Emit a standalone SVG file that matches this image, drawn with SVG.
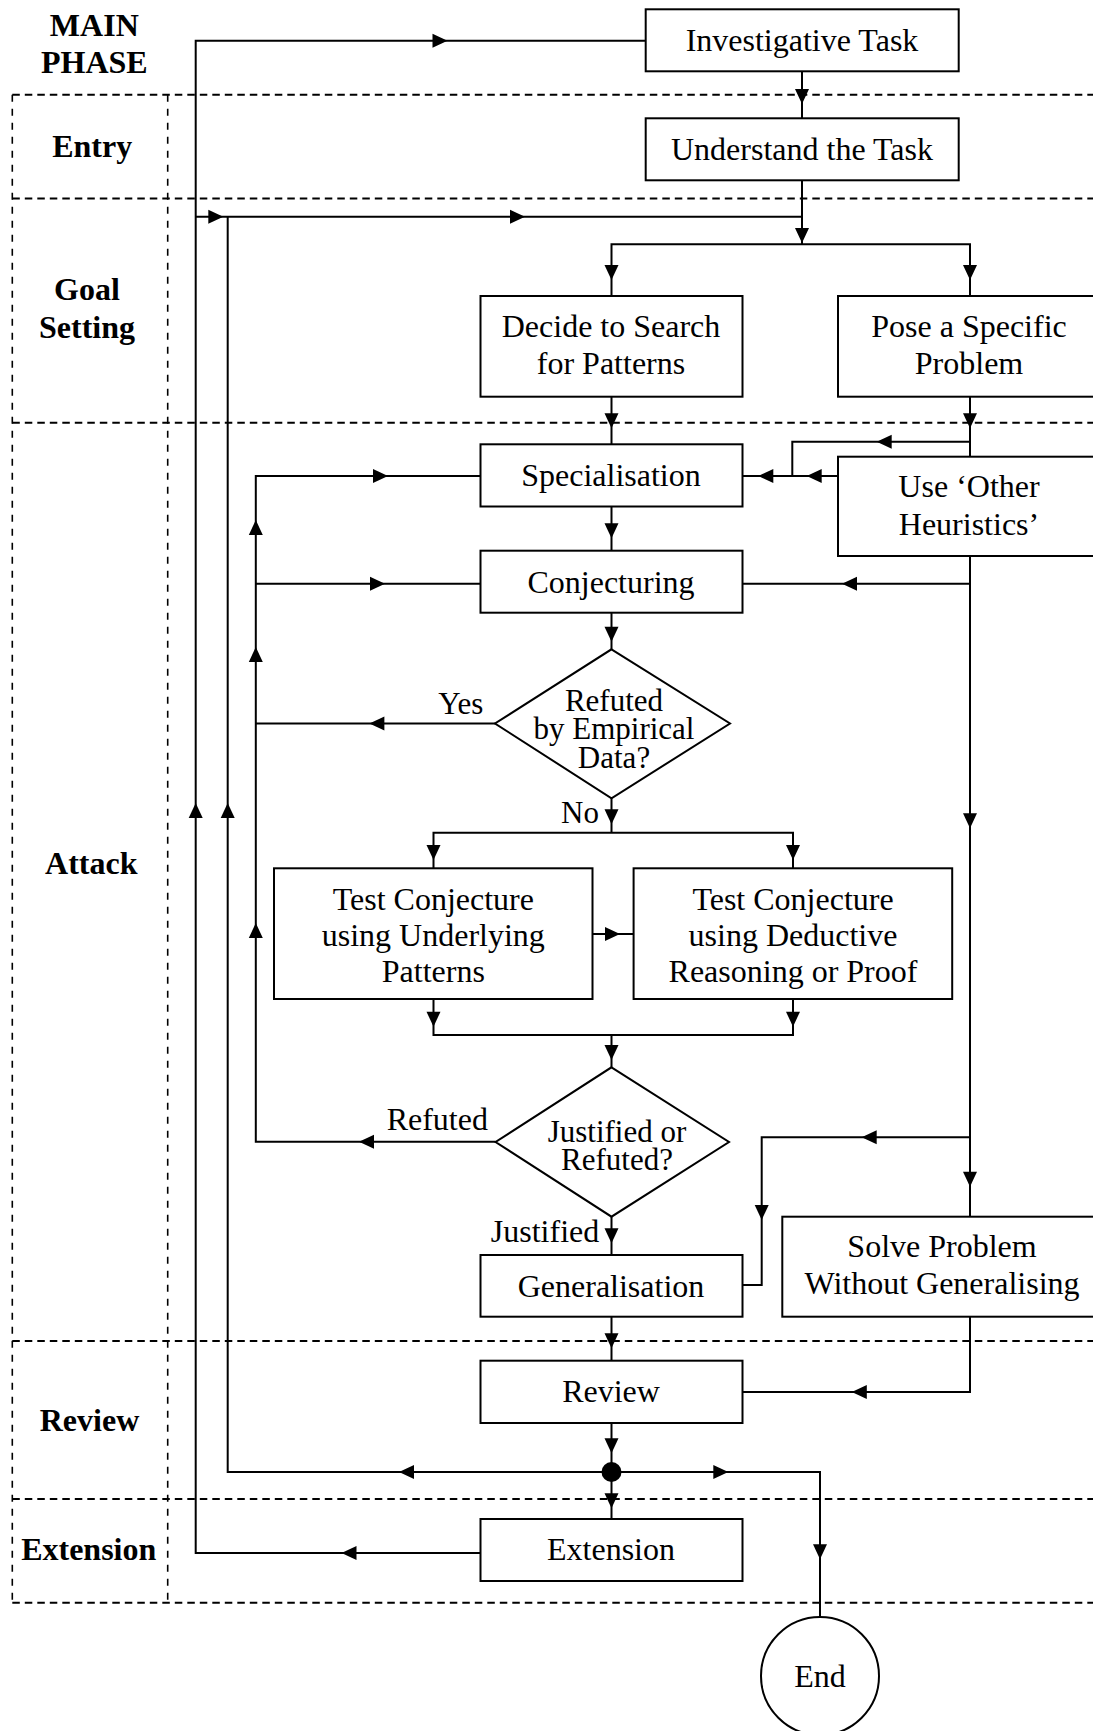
<svg xmlns="http://www.w3.org/2000/svg" xmlns:xlink="http://www.w3.org/1999/xlink" width="1093" height="1731" viewBox="0 0 1093 1731">
<style>
  .bg{fill:#fff}
  .box{fill:#fff;stroke:#000;stroke-width:2}
  .t{font-family:"Liberation Serif","Times New Roman",serif;font-size:32px;text-anchor:middle;fill:#000}
  .d{font-size:31px}
  .ph{font-weight:bold}
  .c{fill:none;stroke:#000;stroke-width:2}
  .dh{fill:none;stroke:#000;stroke-width:2;stroke-dasharray:7.5 5}
  .dv{fill:none;stroke:#000;stroke-width:1.6;stroke-dasharray:7 7}
  .ah{fill:#000}
</style>
<defs>
  <path id="ah" class="ah" d="M0,0 L-15,-7 L-15,7 Z"/>
</defs>
<rect class="bg" x="0" y="0" width="1093" height="1731"/>

<g id="phases">
  <path class="dh" d="M12.3,94.7 H1093 M12.3,198.5 H1093 M12.3,422.7 H1093 M12.3,1341 H1093 M12.3,1499 H1093 M12.3,1602.7 H1093"/>
  <path class="dv" d="M12.3,94.7 V1602.7 M167.7,94.7 V1602.7"/>
  <text class="t ph" x="94.3" y="35.7">MAIN</text>
  <text class="t ph" x="94.3" y="72.7">PHASE</text>
  <text class="t ph" x="92.2" y="156.7">Entry</text>
  <text class="t ph" x="87" y="300">Goal</text>
  <text class="t ph" x="87" y="338">Setting</text>
  <text class="t ph" x="91.3" y="874">Attack</text>
  <text class="t ph" x="89.5" y="1430.7">Review</text>
  <text class="t ph" x="88.7" y="1560">Extension</text>
</g>

<g id="connectors">
  <path class="c" d="M480.5,1553 H195.7 V40.7 H645.7"/>
  <use href="#ah" transform="translate(341.5,1553) rotate(180)"/>
  <use href="#ah" transform="translate(195.7,803) rotate(-90)"/>
  <use href="#ah" transform="translate(447.5,40.7)"/>

  <path class="c" d="M802,71.3 V118.3"/>
  <use href="#ah" transform="translate(802,104) rotate(90)"/>
  <path class="c" d="M802,180.3 V244.3"/>
  <use href="#ah" transform="translate(802,243) rotate(90)"/>

  <path class="c" d="M195.7,216.7 H802"/>
  <use href="#ah" transform="translate(223.3,216.7)"/>
  <use href="#ah" transform="translate(525,216.7)"/>
  <path class="c" d="M611.5,1472 H227.7 V216.7"/>
  <use href="#ah" transform="translate(227.7,803) rotate(-90)"/>
  <use href="#ah" transform="translate(399,1472) rotate(180)"/>

  <path class="c" d="M611.5,296 V244.3 H970 V296"/>
  <use href="#ah" transform="translate(611.5,280) rotate(90)"/>
  <use href="#ah" transform="translate(970,280) rotate(90)"/>

  <path class="c" d="M611.5,396.7 V444.3"/>
  <use href="#ah" transform="translate(611.5,428.3) rotate(90)"/>
  <path class="c" d="M970,396.7 V456.7 M970,441.7 H792.3 V476"/>
  <use href="#ah" transform="translate(970,428.3) rotate(90)"/>
  <use href="#ah" transform="translate(876.7,441.7) rotate(180)"/>
  <path class="c" d="M838,476 H742.5"/>
  <use href="#ah" transform="translate(806.7,476) rotate(180)"/>
  <use href="#ah" transform="translate(758.3,476) rotate(180)"/>

  <path class="c" d="M495,723.5 H255.8 M495.6,1141.7 H255.8 V476 H480.5 M255.8,583.7 H480.5"/>
  <use href="#ah" transform="translate(369.4,723.5) rotate(180)"/>
  <use href="#ah" transform="translate(359,1141.7) rotate(180)"/>
  <use href="#ah" transform="translate(388,476)"/>
  <use href="#ah" transform="translate(385,583.7)"/>
  <use href="#ah" transform="translate(255.8,520) rotate(-90)"/>
  <use href="#ah" transform="translate(255.8,647) rotate(-90)"/>
  <use href="#ah" transform="translate(255.8,923) rotate(-90)"/>

  <path class="c" d="M611.5,506.5 V550.7"/>
  <use href="#ah" transform="translate(611.5,538.3) rotate(90)"/>

  <path class="c" d="M970,556 V1216.7 M970,583.7 H742.5 M970,1137.3 H761.7 V1285 H742.5"/>
  <use href="#ah" transform="translate(842,583.7) rotate(180)"/>
  <use href="#ah" transform="translate(970,828.3) rotate(90)"/>
  <use href="#ah" transform="translate(861.7,1137.3) rotate(180)"/>
  <use href="#ah" transform="translate(970,1186.7) rotate(90)"/>
  <use href="#ah" transform="translate(761.7,1220) rotate(90)"/>

  <path class="c" d="M611.5,612.7 V649.3"/>
  <use href="#ah" transform="translate(611.5,641.7) rotate(90)"/>

  <path class="c" d="M611.5,798.3 V832.7 M433.5,868.3 V832.7 H793 V868.3"/>
  <use href="#ah" transform="translate(611.5,824.3) rotate(90)"/>
  <use href="#ah" transform="translate(433.5,860) rotate(90)"/>
  <use href="#ah" transform="translate(793,860) rotate(90)"/>

  <path class="c" d="M592.5,934 H633.6"/>
  <use href="#ah" transform="translate(620,934)"/>

  <path class="c" d="M433.5,999 V1035 H793 V999 M611.5,1035 V1067.3"/>
  <use href="#ah" transform="translate(433.5,1026.7) rotate(90)"/>
  <use href="#ah" transform="translate(793,1026.7) rotate(90)"/>
  <use href="#ah" transform="translate(611.5,1060) rotate(90)"/>

  <path class="c" d="M611.5,1216.7 V1255"/>
  <use href="#ah" transform="translate(611.5,1243.3) rotate(90)"/>

  <path class="c" d="M611.5,1316.7 V1360.7"/>
  <use href="#ah" transform="translate(611.5,1348.3) rotate(90)"/>

  <path class="c" d="M970,1316.7 V1392 H742.5"/>
  <use href="#ah" transform="translate(851.8,1392) rotate(180)"/>

  <path class="c" d="M611.5,1423 V1472"/>
  <use href="#ah" transform="translate(611.5,1453.3) rotate(90)"/>

  <path class="c" d="M611.5,1472 H820 V1617"/>
  <use href="#ah" transform="translate(728.3,1472)"/>
  <use href="#ah" transform="translate(820,1559.3) rotate(90)"/>

  <path class="c" d="M611.5,1472 V1519"/>
  <use href="#ah" transform="translate(611.5,1508.3) rotate(90)"/>

  <text class="t d" x="460.8" y="714">Yes</text>
  <text class="t d" x="580" y="822.7">No</text>
  <text class="t" x="437.3" y="1129.5">Refuted</text>
  <text class="t" x="545" y="1242">Justified</text>
</g>

<g id="n_invest">
  <rect class="box" x="645.7" y="9.3" width="313" height="62"/>
  <text class="t" x="802" y="51">Investigative Task</text>
</g>
<g id="n_understand">
  <rect class="box" x="645.7" y="118.3" width="313" height="62"/>
  <text class="t" x="802" y="160">Understand the Task</text>
</g>
<g id="n_decide">
  <rect class="box" x="480.5" y="296" width="262" height="100.7"/>
  <text class="t" x="611" y="337">Decide to Search</text>
  <text class="t" x="611" y="374">for Patterns</text>
</g>
<g id="n_pose">
  <rect class="box" x="838" y="296" width="264" height="100.7"/>
  <text class="t" x="969" y="337">Pose a Specific</text>
  <text class="t" x="969" y="374">Problem</text>
</g>
<g id="n_spec">
  <rect class="box" x="480.5" y="444.3" width="262" height="62.2"/>
  <text class="t" x="611" y="486">Specialisation</text>
</g>
<g id="n_other">
  <rect class="box" x="838" y="456.7" width="264" height="99.3"/>
  <text class="t" x="969" y="497.3">Use ‘Other</text>
  <text class="t" x="969" y="535">Heuristics’</text>
</g>
<g id="n_conj">
  <rect class="box" x="480.5" y="550.7" width="262" height="62"/>
  <text class="t" x="611" y="592.5">Conjecturing</text>
</g>
<g id="d_empirical">
  <polygon class="box" points="611.5,649.3 730,723.5 611.5,798.3 495,723.5"/>
  <text class="t d" x="614" y="710.7">Refuted</text>
  <text class="t d" x="614" y="739.3">by Empirical</text>
  <text class="t d" x="614" y="768.3">Data?</text>
</g>
<g id="n_test_patterns">
  <rect class="box" x="274" y="868.3" width="318.5" height="130.7"/>
  <text class="t" x="433.3" y="910">Test Conjecture</text>
  <text class="t" x="433.3" y="946">using Underlying</text>
  <text class="t" x="433.3" y="982">Patterns</text>
</g>
<g id="n_test_proof">
  <rect class="box" x="633.6" y="868.3" width="318.6" height="130.7"/>
  <text class="t" x="793" y="910">Test Conjecture</text>
  <text class="t" x="793" y="946">using Deductive</text>
  <text class="t" x="793" y="982">Reasoning or Proof</text>
</g>
<g id="d_justified">
  <polygon class="box" points="611.5,1067.3 729,1142 611.5,1216.7 495.6,1142"/>
  <text class="t d" x="617" y="1141.5">Justified or</text>
  <text class="t d" x="617" y="1169.5">Refuted?</text>
</g>
<g id="n_gen">
  <rect class="box" x="480.5" y="1255" width="262" height="61.7"/>
  <text class="t" x="611" y="1297">Generalisation</text>
</g>
<g id="n_solve">
  <rect class="box" x="782.3" y="1216.7" width="320" height="100"/>
  <text class="t" x="942" y="1257.3">Solve Problem</text>
  <text class="t" x="942" y="1294">Without Generalising</text>
</g>
<g id="n_review">
  <rect class="box" x="480.5" y="1360.7" width="262" height="62.3"/>
  <text class="t" x="611" y="1402">Review</text>
</g>
<g id="j_dot">
  <circle cx="611.5" cy="1472" r="10" fill="#000"/>
</g>
<g id="n_ext">
  <rect class="box" x="480.5" y="1519" width="262" height="62"/>
  <text class="t" x="611" y="1559.5">Extension</text>
</g>
<g id="n_end">
  <circle class="box" cx="820" cy="1676" r="59"/>
  <text class="t" x="820" y="1687">End</text>
</g>
</svg>
